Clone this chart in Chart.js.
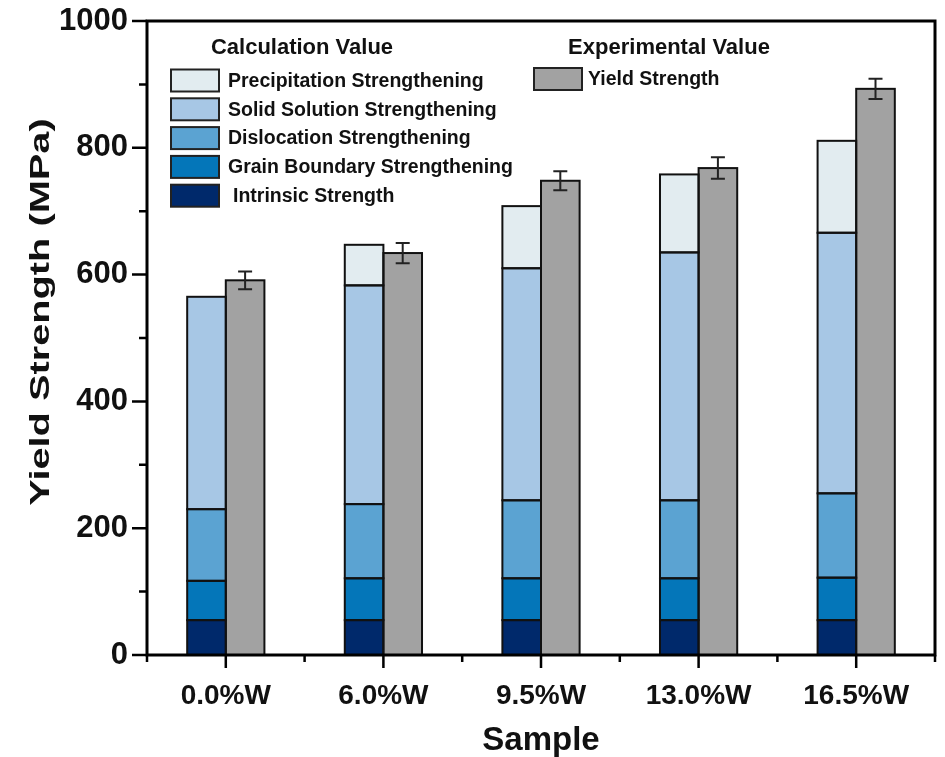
<!DOCTYPE html>
<html>
<head>
<meta charset="utf-8">
<script src="https://cdn.jsdelivr.net/npm/chart.js@4.4.1/dist/chart.umd.min.js"></script>
<style>
    body { margin: 0; background: #fff; }
    #graph-container { width: 945px; height: 757px; }
</style>
</head>
<body>
<div id="graph-container"><canvas id="myChart" width="945" height="757"></canvas></div>
<script>
var samples = ['0.0%W', '6.0%W', '9.5%W', '13.0%W', '16.5%W'];

// calculation value, stacked from the bottom up
var intrinsic = [55, 55, 55, 55, 55];
var grainBoundary = [62, 66, 66, 66, 67];
var dislocation = [113, 117, 123, 123, 133];
var solidSolution = [335, 345, 366, 391, 411];
var precipitation = [0, 64, 98, 123, 145];

// experimental value
var yieldStrength = [591, 634, 748, 768, 893];
var yieldError = [14, 16, 15, 17, 16];

var yMin = 0, yMax = 1000, yStep = 200;

var FONT = '"Liberation Sans", Arial, Helvetica, sans-serif';
var INK = '#111';

function calcSet(label, data, color) {
    return {
        label: label,
        data: data,
        stack: 'calc',
        backgroundColor: color,
        borderWidth: 0
    };
}

// black outline round every bar segment (2px everywhere)
var barOutlines = {
    id: 'barOutlines',
    afterDatasetsDraw: function (chart) {
        var ctx = chart.ctx;
        ctx.save();
        ctx.strokeStyle = INK;
        ctx.lineWidth = 2;
        chart.data.datasets.forEach(function (d, di) {
            chart.getDatasetMeta(di).data.forEach(function (bar) {
                var p = bar.getProps(['x', 'y', 'base', 'width']);
                if (Math.abs(p.base - p.y) < 0.5) return;
                ctx.strokeRect(p.x - p.width / 2, Math.min(p.y, p.base), p.width, Math.abs(p.base - p.y));
            });
        });
        ctx.restore();
    }
};

// legend in two columns, drawn from the datasets
var twoColumnLegend = {
    id: 'twoColumnLegend',
    afterDraw: function (chart) {
        var ctx = chart.ctx, area = chart.chartArea;
        var sets = chart.data.datasets;
        var calc = sets.filter(function (d) { return d.stack === 'calc'; }).reverse();
        var exp = sets.filter(function (d) { return d.stack === 'exp'; });
        ctx.save();
        ctx.fillStyle = INK;
        ctx.textBaseline = 'middle';
        ctx.font = 'bold 22px ' + FONT;
        ctx.textAlign = 'center';
        ctx.fillText('Calculation Value', area.left + 155, area.top + 27);
        ctx.fillText('Experimental Value', area.left + 522, area.top + 27);
        ctx.font = 'bold 19.5px ' + FONT;
        ctx.textAlign = 'left';
        ctx.lineWidth = 2;
        calc.forEach(function (d, i) {
            var cy = area.top + 59.5 + i * 28.8;
            ctx.fillStyle = d.backgroundColor;
            ctx.fillRect(area.left + 24, cy - 11, 48, 22);
            ctx.strokeStyle = '#222';
            ctx.strokeRect(area.left + 24, cy - 11, 48, 22);
            ctx.fillStyle = INK;
            ctx.fillText(d.label, area.left + (i === calc.length - 1 ? 86 : 81), cy + 1);
        });
        exp.forEach(function (d, i) {
            var cy = area.top + 58 + i * 28.8;
            ctx.fillStyle = d.backgroundColor;
            ctx.fillRect(area.left + 387, cy - 11, 48, 22);
            ctx.strokeStyle = '#222';
            ctx.strokeRect(area.left + 387, cy - 11, 48, 22);
            ctx.fillStyle = INK;
            ctx.fillText(d.label, area.left + 441, cy + 1);
        });
        ctx.restore();
    }
};

// error bars on the experimental bars
var errorBars = {
    id: 'errorBars',
    afterDatasetsDraw: function (chart) {
        var ctx = chart.ctx, y = chart.scales.y;
        var idx = chart.data.datasets.findIndex(function (d) { return d.stack === 'exp'; });
        var meta = chart.getDatasetMeta(idx);
        ctx.save();
        ctx.strokeStyle = '#222';
        ctx.lineWidth = 2;
        meta.data.forEach(function (bar, i) {
            var top = y.getPixelForValue(yieldStrength[i] + yieldError[i]);
            var bot = y.getPixelForValue(yieldStrength[i] - yieldError[i]);
            ctx.beginPath();
            ctx.moveTo(bar.x, top); ctx.lineTo(bar.x, bot);
            ctx.moveTo(bar.x - 7, top); ctx.lineTo(bar.x + 7, top);
            ctx.moveTo(bar.x - 7, bot); ctx.lineTo(bar.x + 7, bot);
            ctx.stroke();
        });
        ctx.restore();
    }
};

// box frame, major/minor tick marks and the y title
var frameAndTicks = {
    id: 'frameAndTicks',
    afterDraw: function (chart) {
        var ctx = chart.ctx, area = chart.chartArea;
        var x = chart.scales.x, y = chart.scales.y;
        ctx.save();
        ctx.strokeStyle = '#000';
        ctx.lineWidth = 3;
        ctx.strokeRect(area.left, area.top, area.right - area.left, area.bottom - area.top);

        ctx.lineWidth = 2.5;
        ctx.beginPath();
        for (var v = yMin; v <= yMax; v += yStep / 2) {
            var py = y.getPixelForValue(v);
            var len = v % yStep === 0 ? 15 : 8;
            ctx.moveTo(area.left - len, py);
            ctx.lineTo(area.left, py);
        }
        for (var i = 0; i < samples.length; i++) {
            var px = x.getPixelForValue(i);
            ctx.moveTo(px, area.bottom);
            ctx.lineTo(px, area.bottom + 13);
        }
        for (var k = 0; k <= samples.length; k++) {
            var mx = x.getPixelForValue(k - 0.5);
            ctx.moveTo(mx, area.bottom);
            ctx.lineTo(mx, area.bottom + 7);
        }
        ctx.stroke();

        // y title, stretched along its length like the original
        ctx.translate(41, (area.top + area.bottom) / 2 - 26);
        ctx.rotate(-Math.PI / 2);
        ctx.scale(1.42, 1);
        ctx.fillStyle = INK;
        ctx.font = 'bold 28px ' + FONT;
        ctx.textAlign = 'center';
        ctx.textBaseline = 'middle';
        ctx.fillText('Yield Strength (MPa)', 0, 0);
        ctx.restore();
    }
};

var ctx = document.getElementById('myChart').getContext('2d');
var myChart = new Chart(ctx, {
    type: 'bar',
    data: {
        labels: samples,
        datasets: [
            calcSet('Intrinsic Strength', intrinsic, '#00296b'),
            calcSet('Grain Boundary Strengthening', grainBoundary, '#0476b9'),
            calcSet('Dislocation Strengthening', dislocation, '#5ba3d2'),
            calcSet('Solid Solution Strengthening', solidSolution, '#a7c7e5'),
            calcSet('Precipitation Strengthening', precipitation, '#e2ecf0'),
            {
                label: 'Yield Strength',
                data: yieldStrength,
                stack: 'exp',
                backgroundColor: '#a2a2a2',
                borderWidth: 0
            }
        ]
    },
    options: {
        responsive: false,
        animation: false,
        devicePixelRatio: 1,
        layout: { padding: { left: 0, right: 10, top: 21, bottom: 0 } },
        datasets: {
            bar: { categoryPercentage: 0.49, barPercentage: 1, inflateAmount: 0 }
        },
        plugins: {
            legend: { display: false },
            tooltip: { enabled: false }
        },
        scales: {
            x: {
                stacked: true,
                grid: { display: false, drawTicks: false },
                border: { display: false },
                ticks: {
                    color: INK,
                    padding: 24,
                    font: { family: FONT, size: 28, weight: 'bold' }
                },
                title: {
                    display: true,
                    text: 'Sample',
                    color: INK,
                    padding: { top: 0, bottom: 0 },
                    font: { family: FONT, size: 33, weight: 'bold', lineHeight: 1 }
                },
                afterFit: function (scale) { scale.height = 102; }
            },
            y: {
                stacked: true,
                min: yMin,
                max: yMax,
                // tick marks are drawn by frameAndTicks, tickLength only spaces the labels
                grid: { display: false, drawTicks: true, tickLength: 19 },
                border: { display: false },
                ticks: {
                    stepSize: yStep,
                    color: INK,
                    padding: 0,
                    font: { family: FONT, size: 31, weight: 'bold', lineHeight: 1 },
                    callback: function (value) { return String(value); }
                },
                afterFit: function (scale) { scale.width = 147; }
            }
        }
    },
    plugins: [barOutlines, errorBars, frameAndTicks, twoColumnLegend]
});
</script>
</body>
</html>
